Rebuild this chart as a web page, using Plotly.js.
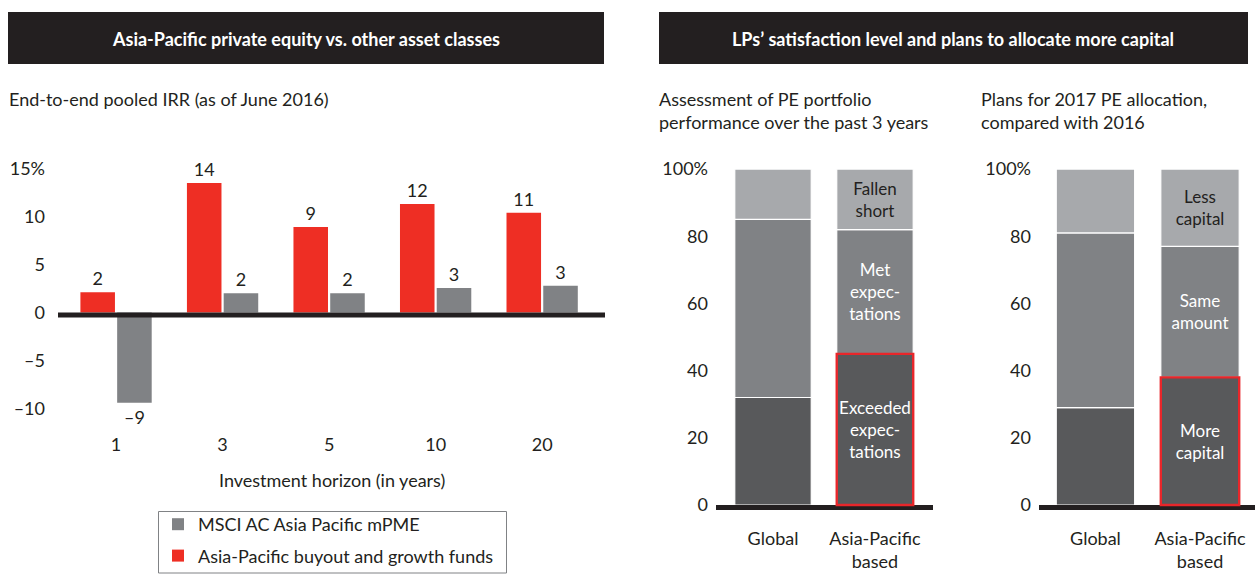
<!DOCTYPE html>
<html><head><meta charset="utf-8">
<script src="https://cdn.plot.ly/plotly-3.0.1.min.js"></script>
<style>html,body{margin:0;padding:0;background:#fff;overflow:hidden;}#chart{width:1258px;height:574px;}</style>
</head><body><div id="chart"></div>
<script>
// ---------------- data ----------------
const horizons = ['1', '3', '5', '10', '20'];
const apBuyoutGrowth = [2.1, 13.5, 8.9, 11.3, 10.4];
const apBuyoutGrowthLabels = ['2', '14', '9', '12', '11'];
const msciMpme = [-9.4, 2.0, 2.0, 2.55, 2.8];
const msciMpmeLabels = ['–9', '2', '2', '3', '3'];
const irrTickVals = [-10, -5, 0, 5, 10, 15];
const irrTickText = ['–10', '–5', '0', '5', '10', '15%'];

const lpGroups = ['Global', 'Asia-Pacific<br>based'];
const perfExceeded = [32, 45];
const perfMet = [53, 37];
const perfFallen = [15, 18];
const perfExceededLabels = ['', 'Exceeded<br>expec-<br>tations'];
const perfMetLabels = ['', 'Met<br>expec-<br>tations'];
const perfFallenLabels = ['', 'Fallen<br>short'];

const allocMore = [29, 38];
const allocSame = [52, 39];
const allocLess = [19, 23];
const allocMoreLabels = ['', 'More<br>capital'];
const allocSameLabels = ['', 'Same<br>amount'];
const allocLessLabels = ['', 'Less<br>capital'];
const pctTickVals = [0, 20, 40, 60, 80, 100];
const pctTickText = ['0', '20', '40', '60', '80', '100%'];

// ---------------- style ----------------
const W = 1258, H = 574;
const FONT = 'Lato, "Open Sans", sans-serif';
const INK = '#231f20', RED = '#ee2e24', GREY = '#808285', DARK = '#58595b', LIGHT = '#a7a9ac';
const px = v => v / W;
const py = v => 1 - v / H;
const STACK_W = 0.75;

const cum = (a, b) => a.map((v, i) => v + (b ? b[i] : 0));

function stackTraces(ax, lo, mid, hi, loL, midL, hiL) {
  const common = {type: 'bar', x: lpGroups, width: STACK_W, offsetgroup: 's' + ax, xaxis: 'x' + ax, yaxis: 'y' + ax,
    showlegend: false, hoverinfo: 'skip', textposition: 'inside', insidetextanchor: 'middle', textangle: 0,
    constraintext: 'none'};
  return [
    Object.assign({}, common, {y: lo, base: [0, 0], text: loL, marker: {color: DARK, line: {color: '#fff', width: 1.2}},
      textfont: {family: FONT, size: 17, color: '#ffffff'}}),
    Object.assign({}, common, {y: mid, base: cum(lo), text: midL, marker: {color: GREY, line: {color: '#fff', width: 1.2}},
      textfont: {family: FONT, size: 17, color: '#ffffff'}}),
    Object.assign({}, common, {y: hi, base: cum(lo, mid), text: hiL, marker: {color: LIGHT, line: {color: '#fff', width: 1.2}},
      textfont: {family: FONT, size: 17, color: INK}})
  ];
}

const data = [
  {type: 'bar', name: 'Asia-Pacific buyout and growth funds', x: horizons, y: apBuyoutGrowth,
   text: apBuyoutGrowthLabels, textposition: 'outside', cliponaxis: false, legendrank: 2, legendgroup: 'b',
   textfont: {family: FONT, size: 18, color: INK}, marker: {color: RED}, hoverinfo: 'skip', xaxis: 'x', yaxis: 'y'},
  {type: 'bar', name: 'MSCI AC Asia Pacific mPME', x: horizons, y: msciMpme,
   text: msciMpmeLabels, textposition: 'outside', cliponaxis: false, legendrank: 1, legendgroup: 'a',
   textfont: {family: FONT, size: 18, color: INK}, marker: {color: GREY}, hoverinfo: 'skip', xaxis: 'x', yaxis: 'y'}
].concat(
  stackTraces(2, perfExceeded, perfMet, perfFallen, perfExceededLabels, perfMetLabels, perfFallenLabels),
  stackTraces(3, allocMore, allocSame, allocLess, allocMoreLabels, allocSameLabels, allocLessLabels)
);

const tickFont = {family: FONT, size: 18, color: INK};
function xa(d0, d1, range, anchor, extra) {
  return Object.assign({domain: [px(d0), px(d1)], anchor: anchor, type: 'category', range: range,
    showgrid: false, zeroline: false, showline: false, ticks: '', tickfont: tickFont, fixedrange: true, automargin: false}, extra || {});
}
function ya(t, b, range, anchor, vals, txt, standoff) {
  return {domain: [py(b), py(t)], anchor: anchor, range: range, tickmode: 'array', tickvals: vals, ticktext: txt,
    showgrid: false, zeroline: false, showline: false, ticks: '', tickfont: tickFont, ticklabelstandoff: standoff,
    fixedrange: true, automargin: false};
}

const zeroBar = (ax) => ({type: 'rect', xref: 'x' + ax + ' domain', yref: 'y' + ax, ysizemode: 'pixel', yanchor: 0,
  x0: 0, x1: 1, y0: 0, y1: -5, fillcolor: INK, line: {width: 0}, layer: 'above'});
const redBox = (ax, vals) => ({type: 'rect', xref: 'x' + ax, yref: 'y' + ax,
  x0: 1 - STACK_W / 2, x1: 1 + STACK_W / 2, y0: 0, y1: vals[1], line: {color: '#e8262a', width: 2.4}, fillcolor: 'rgba(0,0,0,0)'});

const headerFont = {family: FONT, size: 18, color: '#ffffff', weight: 'bold'};
const subFont = {family: FONT, size: 18, color: INK};

const layout = {
  width: W, height: H, margin: {l: 0, r: 0, t: 0, b: 0, autoexpand: false}, paper_bgcolor: '#fff', plot_bgcolor: 'rgba(0,0,0,0)',
  barmode: 'group', bargap: 0.31, bargroupgap: 0.06, font: {family: FONT, color: INK},
  showlegend: true,
  legend: {x: px(158), y: py(506), xanchor: 'left', yanchor: 'top', borderwidth: 0,
    bgcolor: 'rgba(0,0,0,0)', font: {family: FONT, size: 18, color: INK}, tracegroupgap: 5, traceorder: 'grouped'},
  xaxis: xa(58, 605, [-0.545, 4.59], 'y', {ticklabelstandoff: 2}),
  yaxis: ya(150, 430, [-12.24, 16.93], 'x', irrTickVals, irrTickText, 12),
  xaxis2: xa(716, 933, [-0.559, 1.569], 'y2', {ticklabelstandoff: 14}),
  yaxis2: ya(160, 512, [-2.08, 102.7], 'x2', pctTickVals, pctTickText, 7),
  xaxis3: xa(1039, 1255, [-0.54, 1.526], 'y3', {ticklabelstandoff: 14}),
  yaxis3: ya(160, 512, [-2.08, 102.7], 'x3', pctTickVals, pctTickText, 7),
  shapes: [
    {type: 'rect', xref: 'paper', yref: 'paper', x0: px(8), x1: px(604), y0: py(64), y1: py(12), fillcolor: INK, line: {width: 0}, layer: 'below'},
    {type: 'rect', xref: 'paper', yref: 'paper', x0: px(659), x1: px(1248), y0: py(64), y1: py(12), fillcolor: INK, line: {width: 0}, layer: 'below'},
    {type: 'rect', xref: 'paper', yref: 'paper', x0: px(158.5), x1: px(506.5), y0: py(573), y1: py(511.5), fillcolor: 'rgba(0,0,0,0)', line: {color: '#808285', width: 1}, layer: 'below'},
    zeroBar(''), zeroBar(2), zeroBar(3),
    redBox(2, perfExceeded), redBox(3, allocMore)
  ],
  annotations: [
    {xref: 'paper', yref: 'paper', x: px(306), y: py(39), text: 'Asia-Pacific private equity vs. other asset classes', showarrow: false, font: headerFont, xanchor: 'center', yanchor: 'middle'},
    {xref: 'paper', yref: 'paper', x: px(953), y: py(39), text: 'LPs’ satisfaction level and plans to allocate more capital', showarrow: false, font: headerFont, xanchor: 'center', yanchor: 'middle'},
    {xref: 'paper', yref: 'paper', x: px(7), y: py(99), text: 'End-to-end pooled IRR (as of June 2016)', showarrow: false, font: subFont, xanchor: 'left', yanchor: 'middle'},
    {xref: 'paper', yref: 'paper', x: px(657), y: py(110.5), text: 'Assessment of PE portfolio<br>performance over the past 3 years', showarrow: false, font: subFont, xanchor: 'left', yanchor: 'middle', align: 'left'},
    {xref: 'paper', yref: 'paper', x: px(979), y: py(110.5), text: 'Plans for 2017 PE allocation,<br>compared with 2016', showarrow: false, font: subFont, xanchor: 'left', yanchor: 'middle', align: 'left'},
    {xref: 'paper', yref: 'paper', x: px(332), y: py(480), text: 'Investment horizon (in years)', showarrow: false, font: subFont, xanchor: 'center', yanchor: 'middle'}
  ]
};

Plotly.newPlot('chart', data, layout, {displayModeBar: false, staticPlot: true});
</script>
</body></html>
